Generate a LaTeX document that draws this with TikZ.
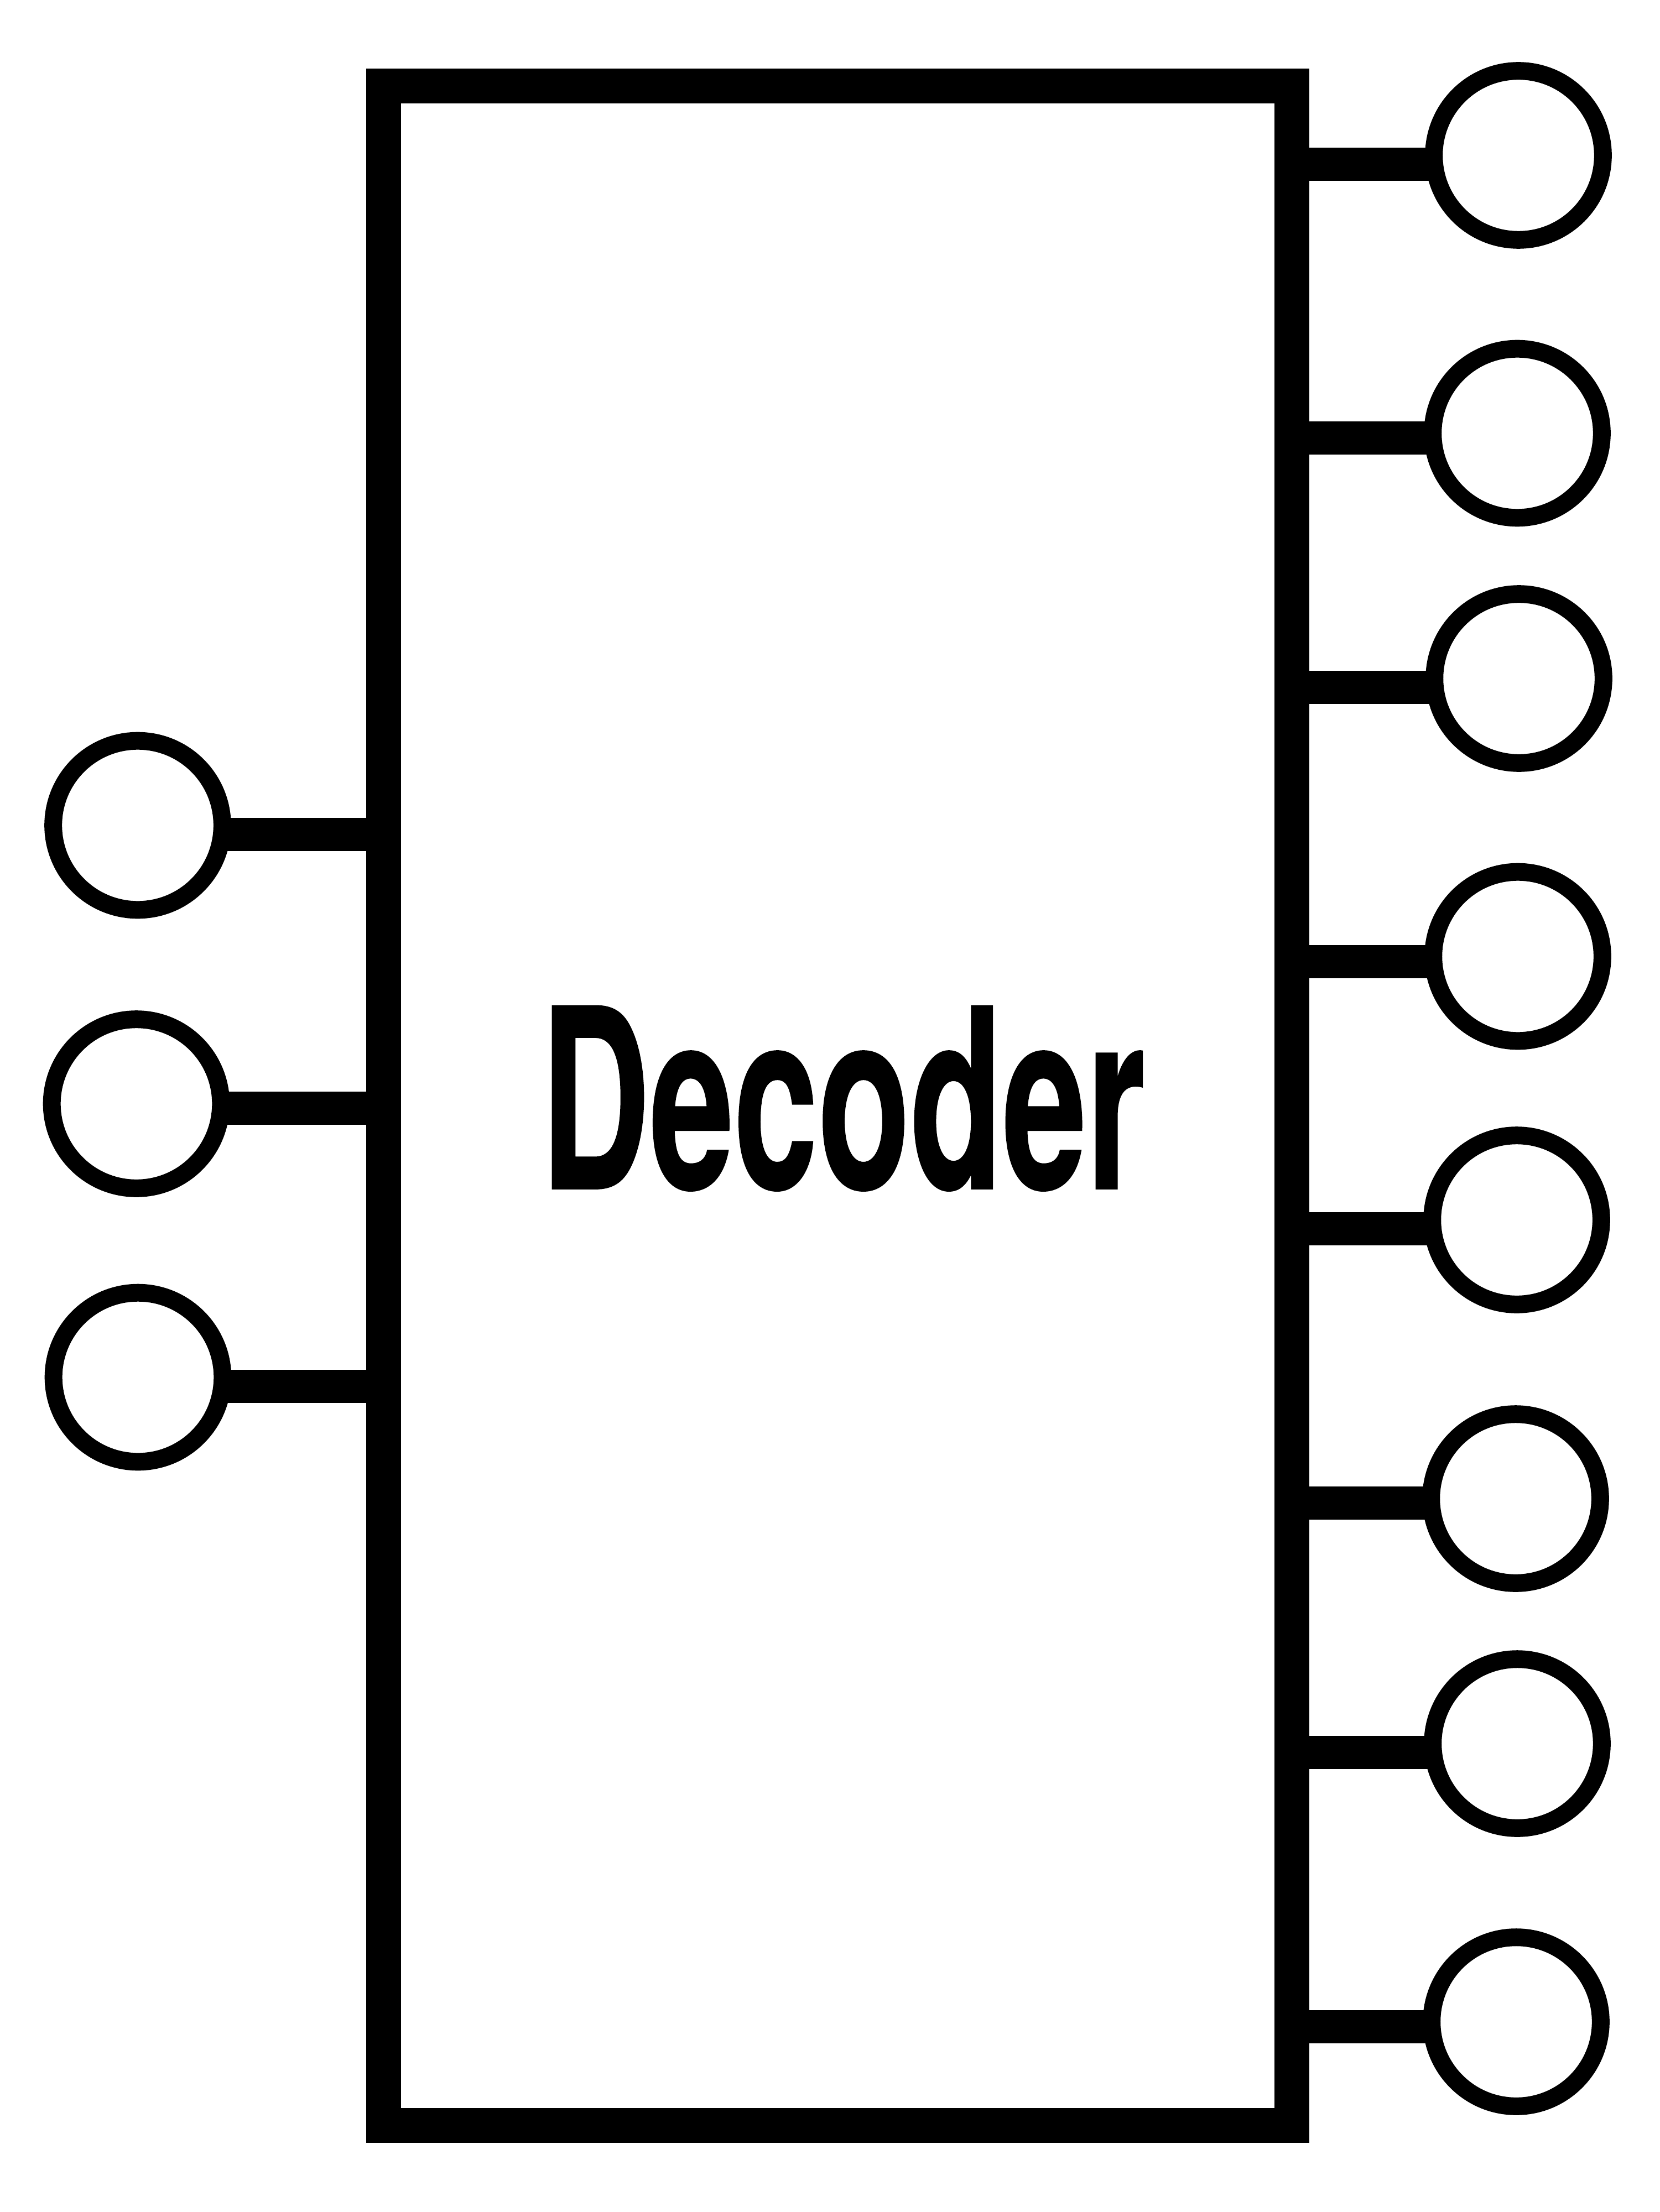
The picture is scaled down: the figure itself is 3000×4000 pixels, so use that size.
\documentclass[tikz,border=0pt]{standalone}
\usepackage{fontspec}
\setmainfont{Liberation Sans}
\newfontfamily\lblfont{TeX Gyre Heros}[BoldFeatures={FakeBold=0.6}]
\usetikzlibrary{backgrounds}
\tikzset{
  chipbox/.style={draw=black,rectangle,line width=15.75pt,inner sep=0pt,outer sep=0pt,minimum width=410.5pt,minimum height=922pt},
  portring/.style={draw=black,fill=white,circle,line width=8pt,inner sep=0pt,outer sep=0pt,minimum size=76.4pt},
  wire/.style={draw=black,line width=15pt},
  chiptext/.style={inner sep=0pt,outer sep=0pt,anchor=base,font=\fontsize{68.3}{68.3}\selectfont\lblfont\bfseries}
}
\begin{document}
\begin{tikzpicture}[x=0.25pt,y=-0.25pt]
\useasboundingbox (0,0) rectangle (3000,4000);
\node[chipbox] (dec) at (1514.5,1999.5) {};
\node[chiptext] (lbl) at (1524,2149.5) {\scalebox{1}[1.66]{Decoder}};
% right rings
\node[portring] (r1) at (2745,281) {};
\node[portring] (r2) at (2743,783.5) {};
\node[portring] (r3) at (2746,1227) {};
\node[portring] (r4) at (2744,1729.5) {};
\node[portring] (r5) at (2742,2206) {};
\node[portring] (r6) at (2740,2710) {};
\node[portring] (r7) at (2743,3153) {};
\node[portring] (r8) at (2741,3656) {};
% left rings
\node[portring] (l1) at (249,1492.5) {};
\node[portring] (l2) at (246.5,1996) {};
\node[portring] (l3) at (249.5,2490.5) {};
\begin{pgfonlayer}{background}
\draw[wire] ([yshift=-4pt]r1.center) -- ([yshift=-4pt]r1.center -| dec.east);
\draw[wire] ([yshift=-2.25pt]r2.center) -- ([yshift=-2.25pt]r2.center -| dec.east);
\draw[wire] ([yshift=-4pt]r3.center) -- ([yshift=-4pt]r3.center -| dec.east);
\draw[wire] ([yshift=-2.25pt]r4.center) -- ([yshift=-2.25pt]r4.center -| dec.east);
\draw[wire] ([yshift=-4pt]r5.center) -- ([yshift=-4pt]r5.center -| dec.east);
\draw[wire] ([yshift=-2.1pt]r6.center) -- ([yshift=-2.1pt]r6.center -| dec.east);
\draw[wire] ([yshift=-3.9pt]r7.center) -- ([yshift=-3.9pt]r7.center -| dec.east);
\draw[wire] ([yshift=-2.25pt]r8.center) -- ([yshift=-2.25pt]r8.center -| dec.east);
\draw[wire] ([yshift=-4.1pt]l1.center) -- ([yshift=-4.1pt]l1.center -| dec.west);
\draw[wire] ([yshift=-2pt]l2.center) -- ([yshift=-2pt]l2.center -| dec.west);
\draw[wire] ([yshift=-4.1pt]l3.center) -- ([yshift=-4.1pt]l3.center -| dec.west);
\end{pgfonlayer}
\end{tikzpicture}
\end{document}
